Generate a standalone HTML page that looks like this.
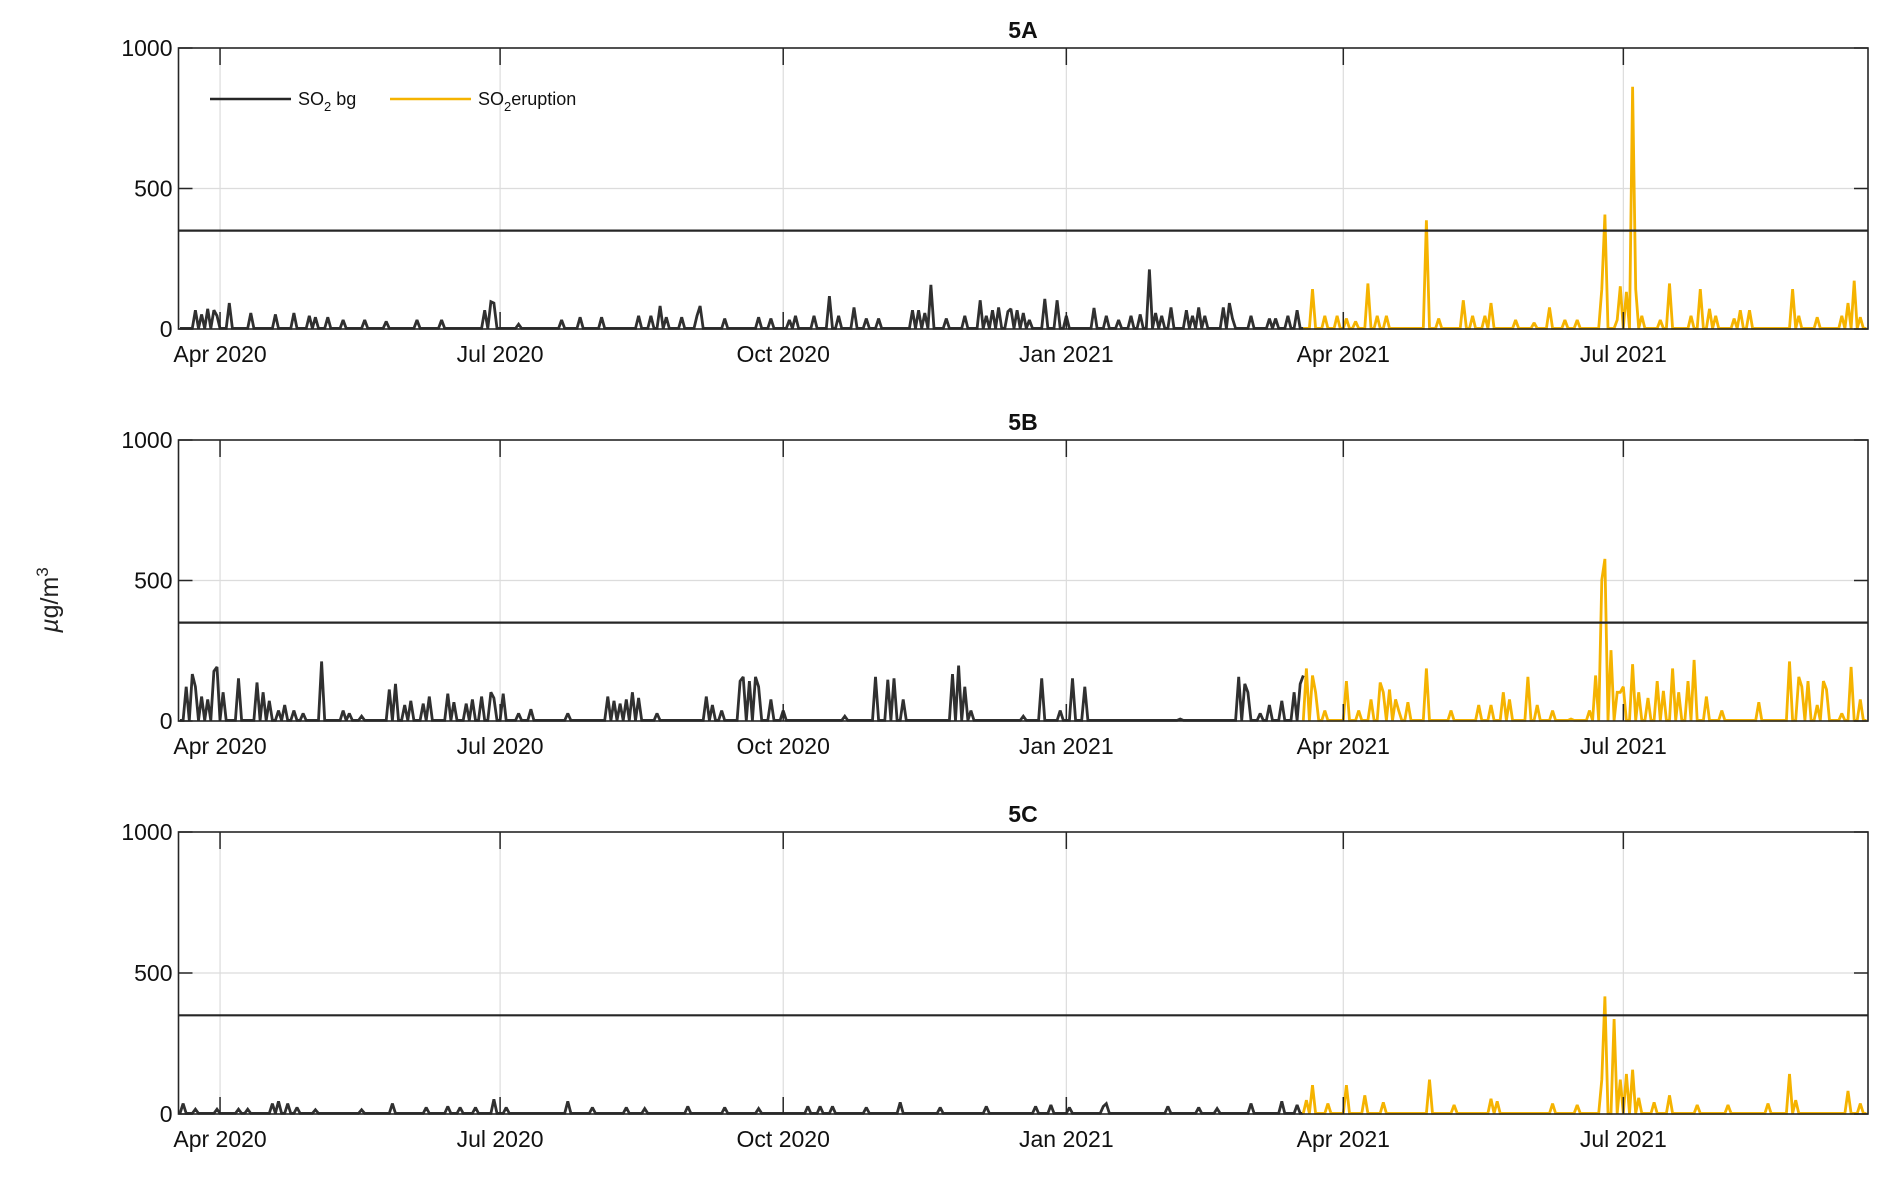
<!DOCTYPE html>
<html><head><meta charset="utf-8"><style>
html,body{margin:0;padding:0;background:#fff;}
svg text{font-family:"Liberation Sans",Arial,sans-serif;}
</style></head><body>
<svg id="chart" width="1892" height="1173" xmlns="http://www.w3.org/2000/svg"></svg>
<script>
// Day offsets from 2020-03-19; eruption starts at day 365
const tickDays=[13,104,196,288,378,469];
const tickLabels=["Apr 2020","Jul 2020","Oct 2020","Jan 2021","Apr 2021","Jul 2021"];
const yTicks=[0,500,1000];
const panelTitles=["5A","5B","5C"];
const thresholdValue=350;
const eruptionStartDay=365;
const totalDays=548;

const aBgDays=[5,7,9,11,12,16,23,31,37,42,44,48,53,60,67,77,85,99,101,102,110,124,130,137,149,153,156,158,163,168,169,177,188,192,198,200,206,211,214,219,223,227,238,240,242,244,249,255,260,262,264,266,269,270,272,274,276,281,285,288,297,301,305,309,312,315,317,319,322,327,329,331,333,339,341,342,348,354,356,360,363];
const aBgVals=[65,50,70,65,45,90,55,50,55,45,40,40,30,30,25,30,30,65,95,90,15,30,40,40,45,45,80,40,40,45,80,35,40,35,30,45,45,115,45,75,35,35,65,65,55,155,35,45,100,45,65,75,60,70,65,55,30,105,100,45,73,45,30,45,50,210,55,45,75,65,45,75,45,75,90,35,45,35,35,45,65];
const aErDays=[368,372,376,379,382,386,389,392,405,409,417,420,424,426,434,440,445,450,454,462,463,467,468,470,472,473,475,481,484,491,494,497,499,505,507,510,524,526,532,540,542,544,546];
const aErVals=[140,45,45,35,25,160,45,45,385,35,100,45,45,90,30,20,75,30,30,140,405,30,150,130,860,140,45,30,160,45,140,70,45,35,65,65,140,45,40,45,90,170,40];

const bBgDays=[2,4,5,7,9,11,12,14,19,25,27,29,32,34,37,40,46,53,55,59,68,70,73,75,79,81,87,89,93,95,98,101,102,105,110,114,126,139,141,143,145,147,149,155,171,173,176,182,183,185,187,188,192,196,216,226,230,232,235,251,253,255,257,274,280,286,290,294,325,344,346,347,351,354,358,362,364,365];
const bBgVals=[120,165,120,85,75,175,190,100,150,135,100,70,35,55,35,25,210,35,25,15,110,130,55,70,60,85,95,65,60,75,85,100,80,95,25,40,25,85,70,60,75,100,80,25,85,55,35,140,155,140,155,120,75,35,15,155,145,150,75,165,195,120,35,15,150,35,150,120,5,155,130,100,25,55,70,100,130,160];
const bErDays=[366,368,369,372,379,383,387,390,391,393,395,396,399,405,413,422,426,430,432,438,441,446,452,458,460,462,463,465,467,468,469,472,474,477,480,482,485,487,490,492,496,501,513,523,526,527,529,532,534,535,540,543,546];
const bErVals=[185,160,100,35,140,35,75,135,100,110,75,35,65,185,35,55,55,100,75,155,55,35,5,35,160,500,575,250,100,100,120,200,100,80,140,105,185,100,140,215,85,35,65,210,155,120,140,55,140,110,25,190,75];

const cBgDays=[1,5,12,19,22,30,32,35,38,44,59,69,80,87,91,96,102,106,126,134,145,151,165,177,188,204,208,212,223,234,247,262,278,283,289,300,301,321,331,337,348,358,363];
const cBgVals=[35,15,15,15,15,35,43,35,21,13,13,35,21,25,21,21,50,21,43,21,21,17,25,21,17,25,25,25,21,39,21,25,25,30,21,25,35,25,21,17,35,43,30];
const cErDays=[366,368,373,379,385,391,406,414,426,428,446,454,462,463,466,468,470,472,474,479,484,493,503,516,523,525,542,546];
const cErVals=[47,100,35,100,64,39,120,30,52,43,35,30,120,415,335,120,140,155,55,39,64,30,30,35,140,47,80,35];

const panels=[
 {top:48,bottom:329,bgD:aBgDays,bgV:aBgVals,erD:aErDays,erV:aErVals},
 {top:440,bottom:721,bgD:bBgDays,bgV:bBgVals,erD:bErDays,erV:bErVals},
 {top:832,bottom:1114,bgD:cBgDays,bgV:cBgVals,erD:cErDays,erV:cErVals}
];
const L=178.5,R=1868;
const NS="http://www.w3.org/2000/svg";
const svg=document.getElementById("chart");
function xS(d){return L+(d+0.5)*(R-L)/(totalDays+1);}
function mk(tag,attrs,parent){const e=document.createElementNS(NS,tag);for(const k in attrs)e.setAttribute(k,attrs[k]);(parent||svg).appendChild(e);return e;}

function series(days,vals,start,end,yS){
  const arr=new Array(totalDays+1).fill(0);
  for(let i=0;i<days.length;i++)arr[days[i]]=vals[i];
  let d="";
  for(let k=start;k<=end;k++){
    const y=yS(arr[k]+2);
    d+=(k===start?"M":"L")+xS(k).toFixed(1)+","+y.toFixed(1);
  }
  return d;
}

panels.forEach((p,i)=>{
  const g=mk("g",{});
  
  
  const yS=v=>p.bottom-(v/1000)*(p.bottom-p.top);
  tickDays.forEach(d=>{const l=mk("line",{x1:xS(d),x2:xS(d),y1:p.top,y2:p.bottom,stroke:"#dcdcdc","stroke-width":1.2},g);
    });
  const gl=mk("line",{x1:L,x2:R,y1:yS(500),y2:yS(500),stroke:"#dcdcdc","stroke-width":1.2},g);
  
  const bg=mk("path",{d:series(p.bgD,p.bgV,0,eruptionStartDay,yS),fill:"none",stroke:"#303030","stroke-width":2.8,"stroke-linejoin":"miter","stroke-miterlimit":2},g);
  
  const er=mk("path",{d:series(p.erD,p.erV,eruptionStartDay,totalDays,yS),fill:"none",stroke:"#f5b300","stroke-width":2.8,"stroke-linejoin":"miter","stroke-miterlimit":2},g);
  
  const th=mk("line",{x1:L,x2:R,y1:yS(thresholdValue),y2:yS(thresholdValue),stroke:"#262626","stroke-width":2.2},g);
  
  const fr=mk("rect",{x:L,y:p.top,width:R-L,height:p.bottom-p.top,fill:"none",stroke:"#262626","stroke-width":1.6},g);
  
  tickDays.forEach((d,j)=>{
    mk("line",{x1:xS(d),x2:xS(d),y1:p.top,y2:p.top+17,stroke:"#262626","stroke-width":1.5},g);
    mk("line",{x1:xS(d),x2:xS(d),y1:p.bottom,y2:p.bottom-17,stroke:"#262626","stroke-width":1.5},g);
    const t=mk("text",{x:xS(d),y:p.bottom+33,"text-anchor":"middle","font-size":23,fill:"#111"},g);
    t.textContent=tickLabels[j];
    
  });
  yTicks.forEach(v=>{
    mk("line",{x1:L,x2:L+14,y1:yS(v),y2:yS(v),stroke:"#262626","stroke-width":1.5},g);
    mk("line",{x1:R,x2:R-14,y1:yS(v),y2:yS(v),stroke:"#262626","stroke-width":1.5},g);
    const t=mk("text",{x:L-6,y:yS(v)+8,"text-anchor":"end","font-size":23,fill:"#111"},g);
    t.textContent=String(v);
    
  });
  const tt=mk("text",{x:1023,y:p.top-10,"text-anchor":"middle","font-size":23,"font-weight":"bold",fill:"#111"},g);
  tt.textContent=panelTitles[i];
  
});
</script>
<svg style="position:absolute;left:0;top:0" width="1892" height="1173" xmlns="http://www.w3.org/2000/svg">
  <g>
    <line x1="210" x2="291" y1="99" y2="99" stroke="#262626" stroke-width="2.5"/>
    <text x="298" y="105" font-size="18" fill="#111">SO<tspan font-size="13" dy="6">2</tspan><tspan dy="-6"> bg</tspan></text>
    <line x1="390" x2="471" y1="99" y2="99" stroke="#f5b300" stroke-width="2.5"/>
    <text x="478" y="105" font-size="18" fill="#111">SO<tspan font-size="13" dy="6">2</tspan><tspan dy="-6">eruption</tspan></text>
  </g>
  <text transform="translate(58,600) rotate(-90)" text-anchor="middle" font-size="25" fill="#222"><tspan font-style="italic">µ</tspan>g/m<tspan font-size="17" dy="-10">3</tspan></text>
</svg>
</body></html>
